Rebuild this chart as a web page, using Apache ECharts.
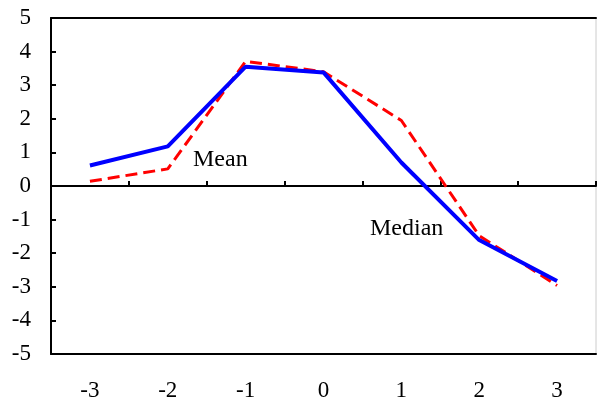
<!DOCTYPE html>
<html>
<head>
<meta charset="utf-8">
<script src="https://cdn.jsdelivr.net/npm/echarts@6/dist/echarts.min.js"></script>
<style>
  html, body { margin: 0; padding: 0; background: #fff; }
  #chart { width: 597px; height: 402px; }
</style>
</head>
<body>
<div id="chart"></div>
<script>
// 横轴类别
const categories = ['-3', '-2', '-1', '0', '1', '2', '3'];
// 蓝色实线 (Mean)
const meanValues = [0.61, 1.18, 3.55, 3.38, 0.70, -1.61, -2.83];
// 红色虚线 (Median)
const medianValues = [0.14, 0.51, 3.71, 3.40, 1.95, -1.48, -2.96];
const yTicks = [-5, 5, 1]; // min, max, interval

const font = 'Liberation Serif';
let chart = echarts.init(document.getElementById('chart'));

chart.setOption({
  animation: false,
  grid: {
    left: 51, right: 1, top: 18, bottom: 48,
    show: true,
    borderColor: '#cccccc',
    borderWidth: 1
  },
  xAxis: [
    {
      // 底部带标签的轴
      type: 'category',
      data: categories,
      position: 'bottom',
      axisLine: { onZero: false, lineStyle: { color: '#000', width: 2 } },
      axisTick: { show: false },
      axisLabel: { color: '#000', fontFamily: font, fontSize: 23, margin: 25 }
    },
    {
      // 零线与刻度
      type: 'category',
      data: categories,
      position: 'bottom',
      axisLine: { onZero: true, lineStyle: { color: '#000', width: 2 } },
      axisTick: { show: true, inside: true, length: 5, lineStyle: { color: '#000', width: 2 } },
      axisLabel: { show: false }
    },
    {
      // 顶部黑线
      type: 'category',
      data: categories,
      position: 'top',
      axisLine: { onZero: false, lineStyle: { color: '#000', width: 2 } },
      axisTick: { show: false },
      axisLabel: { show: false }
    }
  ],
  yAxis: {
    type: 'value',
    min: yTicks[0],
    max: yTicks[1],
    interval: yTicks[2],
    axisLine: { show: true, lineStyle: { color: '#000', width: 2 } },
    axisTick: { show: true, inside: true, length: 5, lineStyle: { color: '#000', width: 2 } },
    splitLine: { show: false },
    axisLabel: { color: '#000', fontFamily: font, fontSize: 23, margin: 20 }
  },
  graphic: [
    {
      type: 'text', x: 193, y: 160,
      style: { text: 'Mean', font: '24px "Liberation Serif"', fill: '#000', verticalAlign: 'middle' }
    },
    {
      type: 'text', x: 370, y: 229,
      style: { text: 'Median', font: '24px "Liberation Serif"', fill: '#000', verticalAlign: 'middle' }
    }
  ],
  series: [
    {
      name: 'Median',
      type: 'line',
      data: medianValues,
      symbol: 'none',
      lineStyle: { color: '#ff0000', width: 3, type: [12, 6] },
      z: 2
    },
    {
      name: 'Mean',
      type: 'line',
      data: meanValues,
      symbol: 'none',
      lineStyle: { color: '#0000ff', width: 4 },
      z: 3
    }
  ]
});
</script>
</body>
</html>
